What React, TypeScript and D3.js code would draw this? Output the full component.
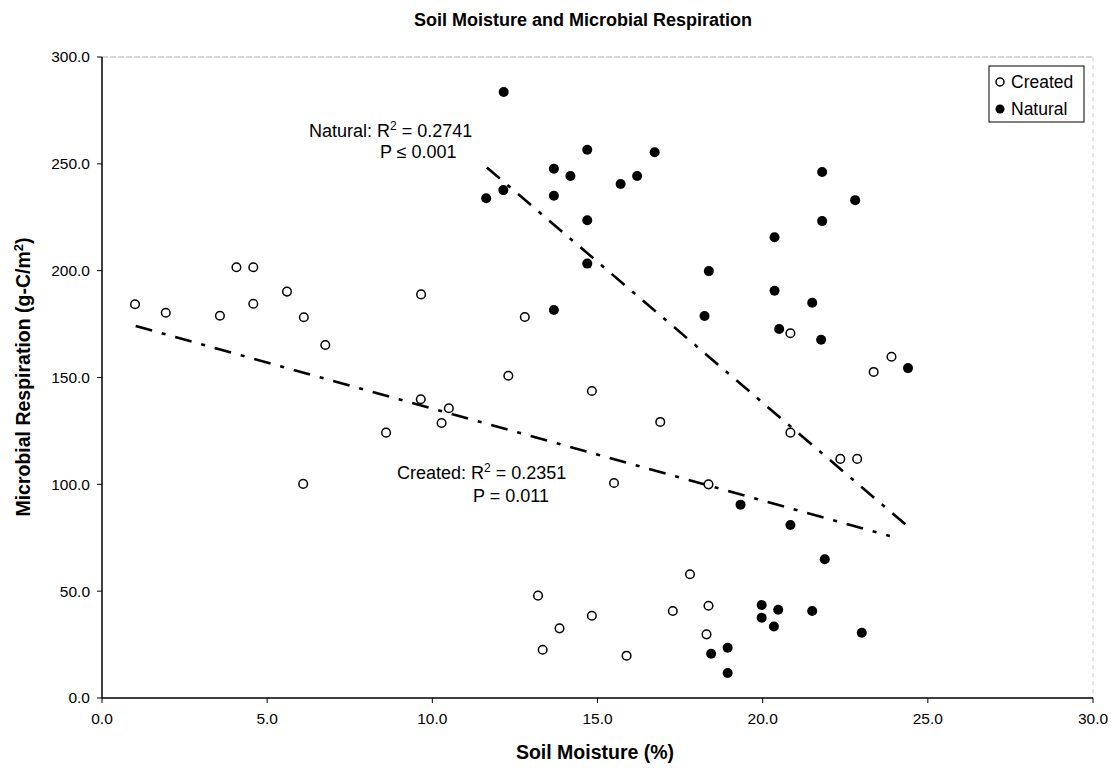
import React from "react";
import * as d3 from "d3";

const createdX = [1.0, 1.93, 3.57, 4.07, 4.58, 4.58, 5.6, 6.11, 6.76, 9.66, 12.3, 9.65, 10.5, 10.28, 8.6, 12.8, 6.09, 14.83, 16.9, 15.5, 18.36, 20.84, 20.84, 23.9, 23.36, 22.35, 22.86, 17.8, 13.2, 14.83, 13.85, 13.34, 15.88, 17.28, 18.36, 18.3];
const createdY = [184.3, 180.3, 178.9, 201.6, 201.6, 184.5, 190.2, 178.2, 165.2, 188.9, 150.8, 139.8, 135.6, 128.7, 124.2, 178.3, 100.2, 143.7, 129.2, 100.6, 100.0, 124.2, 170.7, 159.7, 152.6, 111.9, 111.9, 57.9, 47.9, 38.5, 32.6, 22.6, 19.8, 40.7, 43.2, 29.8];

const naturalX = [12.16, 14.69, 16.73, 13.68, 14.18, 16.2, 15.7, 12.15, 11.63, 13.68, 14.69, 14.69, 18.37, 13.68, 18.24, 21.8, 22.8, 21.8, 20.36, 20.36, 21.5, 20.5, 21.77, 24.4, 19.33, 20.84, 21.88, 19.97, 20.47, 19.97, 20.34, 18.44, 18.94, 18.94, 21.5, 23.0];
const naturalY = [283.6, 256.6, 255.4, 247.7, 244.3, 244.3, 240.6, 237.7, 233.9, 235.1, 223.6, 203.3, 199.8, 181.6, 178.8, 246.2, 233.0, 223.2, 215.6, 190.6, 185.0, 172.7, 167.7, 154.4, 90.5, 81.0, 64.9, 43.5, 41.3, 37.6, 33.5, 20.7, 23.5, 11.7, 40.7, 30.5];

const createdTrendX = [1.02, 23.85];
const createdTrendY = [174.1, 75.8];
const naturalTrendX = [11.65, 24.4];
const naturalTrendY = [248.3, 80.2];

const xTicks = [0, 5, 10, 15, 20, 25, 30];
const yTicks = [0, 50, 100, 150, 200, 250, 300];

const W = 1115;
const H = 770;
const FONT = "Liberation Sans, Arial, Helvetica, sans-serif";

export default function App() {
  const x = d3.scaleLinear().domain([0, 30]).range([102, 1093]);
  const y = d3.scaleLinear().domain([0, 300]).range([698, 57]);
  const fmt = d3.format(".1f");
  const line = d3
    .line<[number, number]>()
    .x((d) => x(d[0]))
    .y((d) => y(d[1]));
  const cTrend: [number, number][] = createdTrendX.map((v, i) => [v, createdTrendY[i]]);
  const nTrend: [number, number][] = naturalTrendX.map((v, i) => [v, naturalTrendY[i]]);

  return (
    <svg
      width={W}
      height={H}
      style={{ position: "absolute", left: 0, top: 0, background: "#fff" }}
      fontFamily={FONT}
    >
      <rect x={0} y={0} width={W} height={H} fill="#fff" />
      <text x={583} y={26} textAnchor="middle" fontSize={18} fontWeight="bold">
        Soil Moisture and Microbial Respiration
      </text>

      {/* plot frame */}
      <line x1={x(0)} x2={x(30)} y1={y(300)} y2={y(300)} stroke="#aaa" strokeWidth={1} strokeDasharray="6 2" />
      <line x1={x(30)} x2={x(30)} y1={y(300)} y2={y(0)} stroke="#ccc" strokeWidth={1} strokeDasharray="4 4" />
      <line x1={x(0)} x2={x(0)} y1={y(300)} y2={y(0)} stroke="#000" strokeWidth={1.5} />
      <line x1={x(0)} x2={x(30)} y1={y(0)} y2={y(0)} stroke="#000" strokeWidth={1.5} />

      {yTicks.map((t) => (
        <g key={"y" + t}>
          <line x1={x(0) - 5} x2={x(0)} y1={y(t)} y2={y(t)} stroke="#000" strokeWidth={1} />
          <text x={x(0) - 12} y={y(t)} dy="0.35em" textAnchor="end" fontSize={15.5}>
            {fmt(t)}
          </text>
        </g>
      ))}
      {xTicks.map((t) => (
        <g key={"x" + t}>
          <line x1={x(t)} x2={x(t)} y1={y(0)} y2={y(0) + 5} stroke="#000" strokeWidth={1} />
          <text x={x(t)} y={y(0) + 26} textAnchor="middle" fontSize={15.5}>
            {fmt(t)}
          </text>
        </g>
      ))}

      <text x={595} y={759} textAnchor="middle" fontSize={19.5} fontWeight="bold">
        Soil Moisture (%)
      </text>
      <text
        transform="translate(30,377) rotate(-90)"
        textAnchor="middle"
        fontSize={19.5}
        fontWeight="bold"
      >
        Microbial Respiration (g-C/m<tspan dy="-7" fontSize={13}>2</tspan><tspan dy="7">)</tspan>
      </text>

      {/* trend lines */}
      <path d={line(cTrend) || ""} fill="none" stroke="#000" strokeWidth={2.6} strokeDasharray="17 10 4 10" />
      <path d={line(nTrend) || ""} fill="none" stroke="#000" strokeWidth={2.6} strokeDasharray="17 10 4 10" />

      {/* points */}
      {createdX.map((v, i) => (
        <circle key={"c" + i} cx={x(v)} cy={y(createdY[i])} r={4.3} fill="#fff" stroke="#000" strokeWidth={1.5} />
      ))}
      {naturalX.map((v, i) => (
        <circle key={"n" + i} cx={x(v)} cy={y(naturalY[i])} r={5} fill="#000" />
      ))}

      {/* annotations */}
      <text x={309} y={137} fontSize={18}>
        Natural: R<tspan dy="-7" fontSize={12}>2</tspan><tspan dy="7"> = 0.2741</tspan>
      </text>
      <text x={380} y={158} fontSize={18}>
        P ≤ 0.001
      </text>
      <text x={397} y={479} fontSize={18}>
        Created: R<tspan dy="-7" fontSize={12}>2</tspan><tspan dy="7"> = 0.2351</tspan>
      </text>
      <text x={473} y={502} fontSize={18}>
        P = 0.011
      </text>

      {/* legend */}
      <rect x={989} y={66} width={95} height={56} fill="#fff" stroke="#000" strokeWidth={1} />
      <circle cx={1000} cy={82} r={4} fill="#fff" stroke="#000" strokeWidth={1.5} />
      <text x={1011} y={82} dy="0.36em" fontSize={17.5}>Created</text>
      <circle cx={1000} cy={109} r={4.5} fill="#000" />
      <text x={1011} y={109} dy="0.36em" fontSize={17.5}>Natural</text>
    </svg>
  );
}
